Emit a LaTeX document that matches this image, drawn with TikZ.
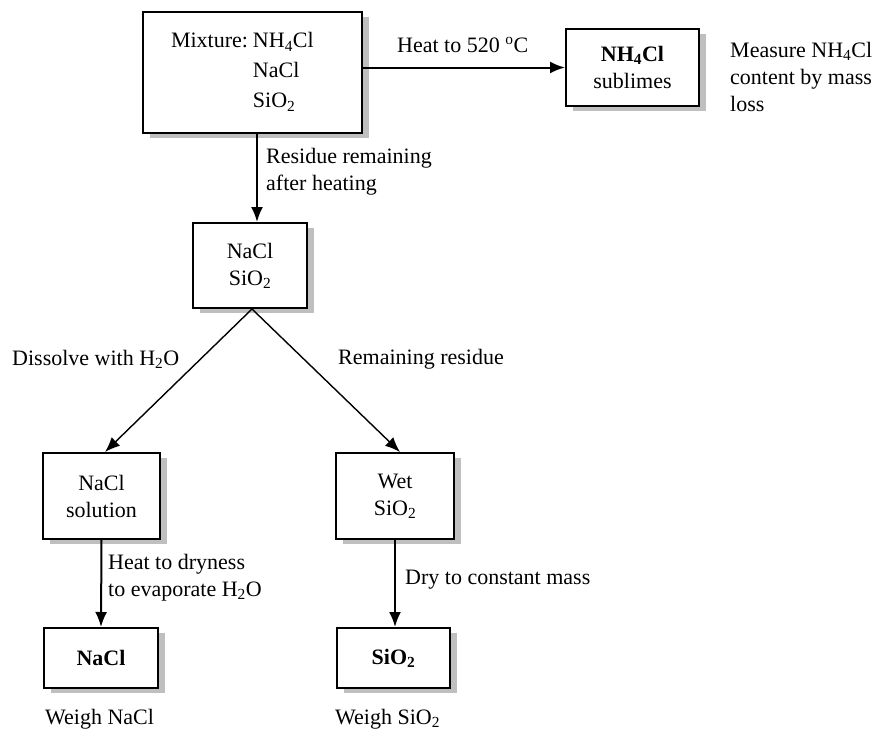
\documentclass[tikz,border=0pt]{standalone}
\usepackage{fontspec}
\setmainfont{Liberation Serif}
\usetikzlibrary{arrows.meta, shadows, positioning, calc}

\begin{document}
\begin{tikzpicture}[
        x=1pt, y=-1pt,
        every node/.style={font={\fontsize{22}{27}\selectfont}},
        box/.style={rectangle, draw=black, line width=2pt, fill=white, align=center, inner sep=0pt, drop shadow={shadow xshift=7pt, shadow yshift=-5pt, fill=black!25, opacity=1}},
        lbl/.style={anchor=west, align=left, inner sep=0pt},
        arr/.style={line width=2pt, -{Latex[length=15pt, width=12pt]}},
        diag/.style={line width=1.4pt, -{Latex[length=15pt, width=12pt]}}
    ]
        \useasboundingbox (0, 0) rectangle (881, 729);
        % Boxes
        \node (mix) [box, minimum width=219pt, minimum height=121pt, text width=163pt, inner xsep=28pt, align=left] at (252.5, 72.5) {\begin{tabular}{@{}l@{\hspace{5pt}}l@{}}Mixture: & NH\textsubscript{4}Cl\\[3pt] & NaCl\\[3pt] & SiO\textsubscript{2}\end{tabular}};
        \node (subl) [box, minimum width=133pt, minimum height=77pt] at (632.5, 67.5) {\textbf{NH\textsubscript{4}Cl}\\ sublimes};
        \node (resid) [box, minimum width=114pt, minimum height=85pt] at (250, 265.5) {NaCl\\ SiO\textsubscript{2}};
        \node (soln) [box, minimum width=117pt, minimum height=86pt] at (101.5, 496) {NaCl\\ solution};
        \node (wet) [box, minimum width=118pt, minimum height=86pt] at (395, 496) {Wet\\ SiO\textsubscript{2}};
        \node (nacl) [box, minimum width=114pt, minimum height=60pt] at (101, 658) {\textbf{NaCl}};
        \node (sio) [box, minimum width=113pt, minimum height=60pt] at (393.5, 658) {\textbf{SiO\textsubscript{2}}};
        % Labels
        \node (heat) [lbl] at (397, 45) {Heat to 520 \textsuperscript{o}C};
        \node (measure) [lbl] at (730, 77) {Measure NH\textsubscript{4}Cl\\ content by mass\\ loss};
        \node (after) [lbl] at (266, 172) {Residue remaining\\ after heating};
        \node (dissolve) [lbl] at (12, 359) {Dissolve with H\textsubscript{2}O};
        \node (remain) [lbl] at (338, 359) {Remaining residue};
        \node (dry) [lbl] at (108, 578) {Heat to dryness\\ to evaporate H\textsubscript{2}O};
        \node (const) [lbl] at (405, 580) {Dry to constant mass};
        \node (wnacl) [anchor=base west, inner sep=0pt] at (45, 724) {Weigh NaCl};
        \node (wsio) [anchor=base west, inner sep=0pt] at (335, 724) {Weigh SiO\textsubscript{2}};
        % Arrows
        \draw [arr] (mix.east |- subl.west) -- (subl.west);
        \draw [arr] ([xshift=4.5pt]mix.south) -- ([xshift=4.5pt]mix.south |- resid.north);
        \draw [diag] ([xshift=2pt]resid.south) -- ([xshift=3.5pt]soln.north);
        \draw [diag] ([xshift=2pt]resid.south) -- ([xshift=5pt]wet.north);
        \draw [arr] (soln.south) -- (nacl.north);
        \draw [arr] (wet.south) -- (wet.south |- sio.north);
    \end{tikzpicture}
\end{document}
